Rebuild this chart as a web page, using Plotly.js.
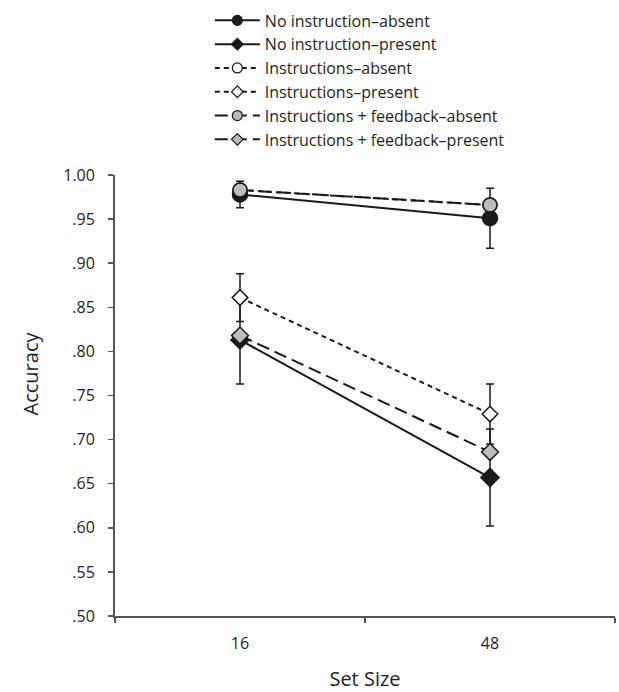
<!DOCTYPE html>
<html>
<head>
<meta charset="utf-8">
<script src="https://cdn.plot.ly/plotly-3.0.1.min.js"></script>
<style>html,body{margin:0;padding:0;background:#fff;}#chart{width:619px;height:692px;}</style>
</head>
<body>
<div id="chart"></div>
<script>
// ---- data ----
var setSizes = ['16', '48'];
var seriesNames = [
  'No instruction–absent',
  'No instruction–present',
  'Instructions–absent',
  'Instructions–present',
  'Instructions + feedback–absent',
  'Instructions + feedback–present'
];
var noInstrAbsent = [0.978, 0.951];
var noInstrAbsentErr = [0.015, 0.034];
var noInstrPresent = [0.813, 0.657];
var noInstrPresentErr = [0.050, 0.055];
var instrAbsent = [0.983, 0.966];
var instrPresent = [0.861, 0.729];
var instrPresentErr = [0.027, 0.034];
var instrFbAbsent = [0.983, 0.966];
var instrFbPresent = [0.818, 0.686];
var yTickVals = [0.50, 0.55, 0.60, 0.65, 0.70, 0.75, 0.80, 0.85, 0.90, 0.95, 1.00];
var yTickText = ['.50', '.55', '.60', '.65', '.70', '.75', '.80', '.85', '.90', '.95', '1.00'];
var xTitle = 'Set Size';
var yTitle = 'Accuracy';

// ---- styles ----
var FONT = 'Open Sans, sans-serif';
var GRAY = '#bcbcbc';
var styles = [
  {dash: 'solid', symbol: 'circle', fill: '#1a1a1a', size: 15},
  {dash: 'solid', symbol: 'diamond', fill: '#1a1a1a', size: 14},
  {dash: '5px,4px', symbol: 'circle', fill: '#ffffff', size: 14},
  {dash: '5px,4px', symbol: 'diamond', fill: '#ffffff', size: 12},
  {dash: '13px,6px', symbol: 'circle', fill: GRAY, size: 14},
  {dash: '13px,6px', symbol: 'diamond', fill: GRAY, size: 13}
];
var ys = [noInstrAbsent, noInstrPresent, instrAbsent, instrPresent, instrFbAbsent, instrFbPresent];
var errs = [noInstrAbsentErr, noInstrPresentErr, null, instrPresentErr, null, null];

var traces = [];
ys.forEach(function (y, i) {
  var s = styles[i];
  var t = {
    x: setSizes, y: y, type: 'scatter', mode: 'lines+markers',
    name: seriesNames[i], showlegend: false,
    line: {color: '#1a1a1a', width: 2, dash: s.dash},
    marker: {symbol: s.symbol, size: s.size, color: s.fill, line: {color: '#1a1a1a', width: 1.5}},
    hoverinfo: 'skip'
  };
  if (errs[i]) {
    t.error_y = {type: 'data', array: errs[i], visible: true, color: '#1a1a1a', thickness: 1.5, width: 4};
  }
  traces.push(t);
});
// legend proxies (smaller markers as in the reference legend)
ys.forEach(function (y, i) {
  var s = styles[i];
  traces.push({
    x: [null], y: [null], type: 'scatter', mode: 'lines+markers',
    name: seriesNames[i], showlegend: true,
    line: {color: '#1a1a1a', width: 2, dash: s.dash},
    marker: {symbol: s.symbol, size: s.symbol === 'circle' ? 10 : 9, color: s.fill, line: {color: '#1a1a1a', width: 1.2}}
  });
});

var layout = {
  width: 619, height: 692,
  margin: {l: 115, r: 4, t: 175, b: 76, autoexpand: false},
  paper_bgcolor: '#ffffff', plot_bgcolor: '#ffffff',
  font: {family: FONT, size: 15, color: '#231f20'},
  showlegend: true,
  legend: {
    xref: 'container', yref: 'container',
    x: 0.339, y: 0.995, xanchor: 'left', yanchor: 'top',
    font: {family: FONT, size: 16, color: '#231f20'},
    bgcolor: 'rgba(0,0,0,0)', borderwidth: 0, itemwidth: 45,
    tracegroupgap: 0
  },
  xaxis: {
    type: 'category', range: [-0.5, 1.5], tickson: 'boundaries',
    ticks: 'outside', ticklen: 5, tickwidth: 1.5, tickcolor: '#555555',
    showline: true, linecolor: '#555555', linewidth: 2,
    showgrid: false, zeroline: false,
    tickfont: {family: FONT, size: 16, color: '#231f20'},
    ticklabelstandoff: 12,
    title: {text: xTitle, font: {family: FONT, size: 20, color: '#231f20'}, standoff: 22}
  },
  yaxis: {
    range: [0.5, 1.0], tickvals: yTickVals, ticktext: yTickText,
    ticks: 'outside', ticklen: 5, tickwidth: 1.5, tickcolor: '#555555',
    showline: true, linecolor: '#555555', linewidth: 2,
    showgrid: false, zeroline: false,
    tickfont: {family: FONT, size: 16, color: '#231f20'},
    ticklabelstandoff: 10
  },
  annotations: [{
    text: yTitle, xref: 'paper', yref: 'paper',
    x: -0.17, y: 0.55, xanchor: 'center', yanchor: 'middle',
    textangle: -90, showarrow: false,
    font: {family: FONT, size: 20, color: '#231f20'}
  }]
};

Plotly.newPlot('chart', traces, layout, {displayModeBar: false, staticPlot: true});
</script>
</body>
</html>
